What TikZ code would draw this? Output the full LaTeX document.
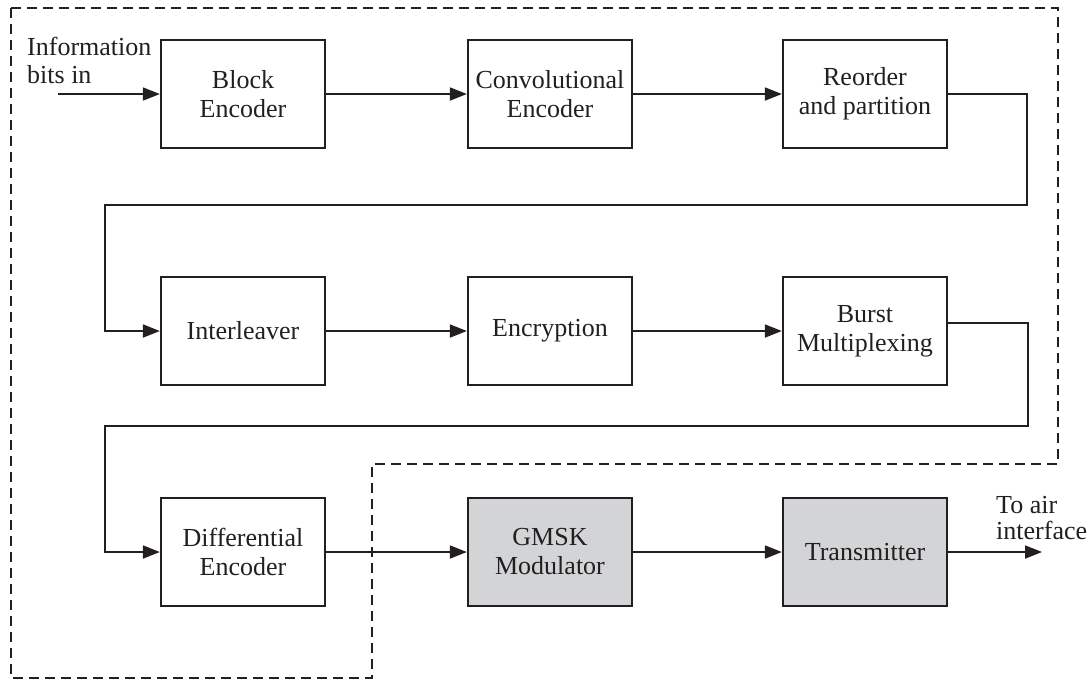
\documentclass[tikz,border=0pt]{standalone}
\usepackage{fontspec}
\setmainfont{Liberation Serif}
\usetikzlibrary{arrows.meta}
\definecolor{boxgray}{RGB}{211,212,214}
\definecolor{ink}{RGB}{35,31,32}
\begin{document}
\begin{tikzpicture}[x=1pt,y=-1pt,
  blk/.style={draw=ink, line width=2.3pt, minimum width=164pt, minimum height=108pt, inner sep=0pt, align=center, text=ink, font=\fontsize{26}{29}\selectfont},
  gblk/.style={blk, fill=boxgray},
  conn/.style={draw=ink, line width=1.8pt, -{Triangle[length=17pt,width=13pt]}},
  bound/.style={draw=ink, line width=1.6pt, dash pattern=on 10pt off 6pt},
  lbl/.style={align=left, inner sep=0pt, text=ink}]
\useasboundingbox (0,0) rectangle (1091,681);
% dashed boundary
\draw[bound] (11,8) -- (1058,8) -- (1058,464) -- (372,464) -- (372,678) -- (11,678) -- cycle;
% boxes
\node[blk] (be) at (243,94) {Block\\Encoder};
\node[blk] (ce) at (550,94) {Convolutional\\Encoder};
\node[blk] (rp) at (865,94) {Reorder\\and partition};
\node[blk] (il) at (243,331) {Interleaver};
\node[blk] (en) at (550,331) {Encryption};
\node[blk] (bm) at (865,331) {Burst\\Multiplexing};
\node[blk] (de) at (243,552) {Differential\\Encoder};
\node[gblk] (gm) at (550,552) {GMSK\\Modulator};
\node[gblk] (tx) at (865,552) {Transmitter};
% labels
\node[lbl, anchor=north west, font=\fontsize{26}{28}\selectfont] (inlbl) at (27,37) {Information\\bits in};
\node[lbl, anchor=north west, font=\fontsize{26}{26}\selectfont] (outlbl) at (996,496) {To air\\interface};
% coordinates
\coordinate (src) at (58,94);
\coordinate (t1) at (1027,205);
\coordinate (t2) at (105,205);
\coordinate (bmo) at ([yshift=8pt]bm.east);
\coordinate (t3) at (1028,426);
\coordinate (t4) at (105,426);
\coordinate (dst) at (1042,552);
% connectors
\draw[conn] (src) -- (be.west);
\draw[conn] (be) -- (ce);
\draw[conn] (ce) -- (rp);
\draw[conn] (rp.east) -| (t1) -- (t2) |- (il.west);
\draw[conn] (il) -- (en);
\draw[conn] (en) -- (bm);
\draw[conn] (bmo) -| (t3) -- (t4) |- (de.west);
\draw[conn] (de) -- (gm);
\draw[conn] (gm) -- (tx);
\draw[conn] (tx.east) -- (dst);
\end{tikzpicture}
\end{document}
